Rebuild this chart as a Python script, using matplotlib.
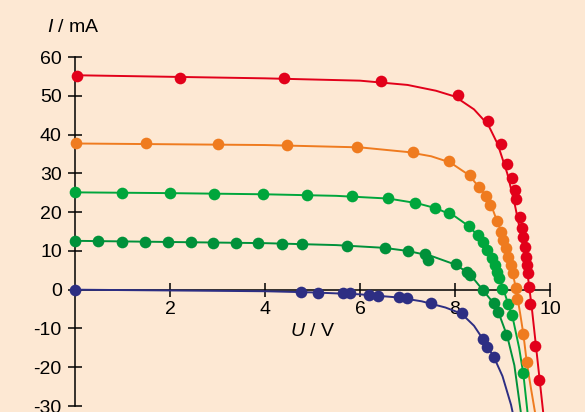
import matplotlib
matplotlib.use("Agg")
import matplotlib.pyplot as plt

plt.rcParams['font.family'] = ['Liberation Sans', 'DejaVu Sans']
plt.rcParams['mathtext.fontset'] = 'custom'
plt.rcParams['mathtext.rm'] = 'Liberation Sans'
plt.rcParams['mathtext.it'] = 'Liberation Sans:italic'
plt.rcParams['axes.unicode_minus'] = False

BG = '#FDE8D3'

# measured points (U in V, I in mA)
red_U = [0.04, 2.21, 4.40, 6.44, 8.07, 8.70, 8.97, 9.09, 9.20, 9.26, 9.29, 9.37, 9.41, 9.44, 9.47, 9.50, 9.52, 9.54, 9.56, 9.58, 9.68, 9.76]
red_I = [55.2, 54.6, 54.6, 53.8, 50.2, 43.6, 37.5, 32.4, 28.9, 25.7, 23.3, 18.8, 15.8, 13.5, 11.1, 8.5, 6.4, 4.2, 0.8, -3.7, -14.5, -23.3]

orange_U = [0.02, 1.49, 3.02, 4.46, 5.94, 7.11, 7.87, 8.31, 8.51, 8.65, 8.74, 8.88, 8.97, 9.02, 9.07, 9.12, 9.17, 9.22, 9.28, 9.31, 9.44, 9.51]
orange_I = [37.7, 37.7, 37.6, 37.3, 36.9, 35.4, 33.1, 29.7, 26.6, 24.2, 21.8, 17.8, 15.0, 12.8, 10.7, 8.5, 6.4, 4.2, 0.4, -2.5, -11.5, -18.6]

lgreen_U = [0.0, 0.98, 2.0, 2.93, 3.95, 4.89, 5.84, 6.6, 7.16, 7.58, 7.88, 8.29, 8.49, 8.6, 8.68, 8.77, 8.84, 8.89, 8.93, 9.0, 9.12, 9.21, 9.44]
lgreen_I = [25.1, 25.0, 24.9, 24.8, 24.6, 24.5, 24.1, 23.6, 22.4, 21.0, 19.7, 16.5, 14.1, 12.2, 10.3, 8.3, 6.4, 4.6, 2.9, 0.3, -3.7, -6.5, -21.4]

dgreen_U = [0.0, 0.49, 0.98, 1.47, 1.96, 2.44, 2.91, 3.40, 3.86, 4.35, 4.77, 5.73, 6.53, 7.02, 7.37, 7.44, 8.02, 8.25, 8.32, 8.58, 8.83, 8.90, 9.08]
dgreen_I = [12.6, 12.6, 12.4, 12.4, 12.3, 12.3, 12.1, 12.1, 12.0, 11.9, 11.8, 11.3, 10.8, 10.0, 9.2, 7.7, 6.5, 4.6, 3.8, -0.1, -3.5, -5.8, -11.7]

blue_U = [0.0, 4.75, 5.12, 5.65, 5.79, 6.20, 6.37, 6.83, 6.98, 7.50, 8.14, 8.58, 8.68, 8.82]
blue_I = [0.0, -0.5, -0.8, -0.8, -0.8, -1.4, -1.5, -2.0, -2.2, -3.5, -6.1, -12.8, -14.9, -17.4]

# fitted curves
red_fit_U = [0, 2, 4, 6, 7, 7.6, 8.0, 8.4, 8.7, 8.9, 9.1, 9.25, 9.4, 9.5, 9.56, 9.62, 9.7, 9.78, 9.86]
red_fit_I = [55.3, 54.9, 54.5, 53.9, 52.8, 51.3, 49.8, 46.5, 42.5, 37.5, 30.0, 22.5, 13.5, 6.5, 1.0, -5.0, -14.0, -23.0, -32.0]

orange_fit_U = [0, 2, 4, 6, 7, 7.5, 7.9, 8.3, 8.6, 8.8, 9.0, 9.15, 9.28, 9.37, 9.44, 9.51, 9.6, 9.69]
orange_fit_I = [37.7, 37.5, 37.3, 36.7, 35.5, 34.4, 32.8, 29.5, 25.0, 20.5, 14.0, 8.0, 0.5, -6.0, -11.5, -18.6, -25.5, -32.0]

lgreen_fit_U = [0, 2, 4, 5.5, 6.6, 7.2, 7.6, 8.0, 8.3, 8.55, 8.75, 8.9, 9.0, 9.12, 9.22, 9.35, 9.44, 9.51, 9.53]
lgreen_fit_I = [25.1, 24.9, 24.6, 24.2, 23.5, 22.3, 21.0, 18.9, 16.3, 13.0, 9.0, 4.5, 0.8, -3.7, -7.5, -15.0, -21.8, -29.7, -32.0]

dgreen_fit_U = [0, 2, 4, 5.5, 6.5, 7.0, 7.5, 8.0, 8.3, 8.58, 8.8, 8.95, 9.1, 9.25, 9.37, 9.39]
dgreen_fit_I = [12.6, 12.3, 12.0, 11.5, 10.8, 10.0, 8.7, 6.5, 4.2, 0.0, -3.3, -7.0, -12.0, -19.5, -30.2, -32.0]

blue_fit_U = [0, 2, 4, 5, 6, 6.8, 7.3, 7.8, 8.14, 8.4, 8.58, 8.82, 9.0, 9.18, 9.22]
blue_fit_I = [0.0, -0.2, -0.4, -0.7, -1.2, -2.0, -3.0, -4.6, -6.2, -9.3, -12.6, -17.4, -22.3, -29.7, -32.0]

x_ticks = [2, 4, 6, 8, 10]
y_ticks = [-30, -20, -10, 0, 10, 20, 30, 40, 50, 60]

series = [
    (blue_U, blue_I, blue_fit_U, blue_fit_I, '#2D2E83'),
    (dgreen_U, dgreen_I, dgreen_fit_U, dgreen_fit_I, '#00913A'),
    (lgreen_U, lgreen_I, lgreen_fit_U, lgreen_fit_I, '#00A63C'),
    (orange_U, orange_I, orange_fit_U, orange_fit_I, '#EF7B1F'),
    (red_U, red_I, red_fit_U, red_fit_I, '#E2001A'),
]

fig = plt.figure(figsize=(5.85, 4.12), dpi=100, facecolor=BG)
ax = fig.add_axes([0, 0, 1, 1], facecolor=BG)
ax.set_xlim(-1.579, 10.737)
ax.set_ylim(-31.54, 74.70)

for U, I, fU, fI, c in series:
    ax.plot(fU, fI, color=c, lw=1.4, zorder=3, solid_joinstyle='round')
    ax.plot(U, I, 'o', color=c, ms=8.4, mec='none', zorder=4)

for side in ['top', 'right']:
    ax.spines[side].set_visible(False)
ax.spines['left'].set_position(('data', 0))
ax.spines['bottom'].set_position(('data', 0))
ax.spines['left'].set_bounds(-30, 60)
ax.spines['bottom'].set_bounds(0, 10)
for s in ['left', 'bottom']:
    ax.spines[s].set_linewidth(1.1)
    ax.spines[s].set_zorder(2)

ax.set_xticks(x_ticks)
ax.set_xticklabels([str(v) for v in x_ticks])
ax.set_yticks(y_ticks)
ax.set_yticklabels([str(v) for v in y_ticks])
ax.tick_params(direction='inout', length=10, width=1.1, labelsize=14, colors='black')
ax.tick_params(axis='y', pad=4.5)
ax.tick_params(axis='x', pad=3)

ax.text(-0.59, 66.4, r'$\mathit{I}$ / mA', fontsize=14, ha='left', va='baseline')
ax.text(4.53, -11.9, r'$\mathit{U}$ / V', fontsize=14, ha='left', va='baseline')

fig.savefig('out.png', dpi=100, facecolor=BG)
